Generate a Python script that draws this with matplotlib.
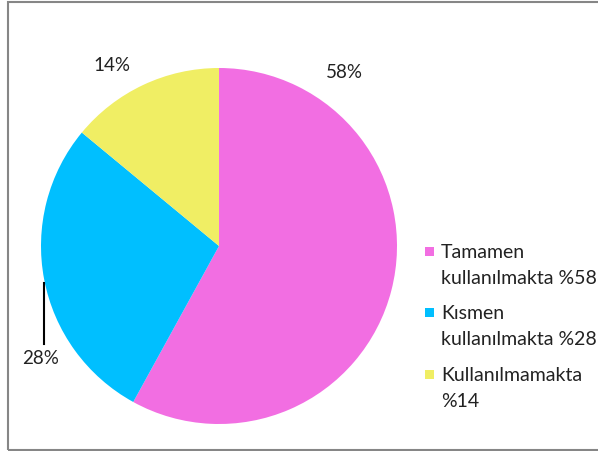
import matplotlib.pyplot as plt
from matplotlib.patches import Rectangle

# data
categories = ['Tamamen\nkullanılmakta %58', 'Kısmen\nkullanılmakta %28', 'Kullanılmamakta\n%14']
values = [58, 28, 14]
pct_labels = ['58%', '28%', '14%']
colors = ['#F26EE2', '#00BFFF', '#F0EE64']

plt.rcParams['font.family'] = ['Lato', 'DejaVu Sans']

W, H = 598, 452
fig = plt.figure(figsize=(W / 100, H / 100), dpi=100)

# outer frame
fig.patches.append(Rectangle((8 / W, 1 - 451 / H), 1.0, 448 / H, transform=fig.transFigure,
                             fill=False, edgecolor='#868686', linewidth=1.5))

# pie axes, center (219, 247) px, radius 178 px
cx, cy, r = 219, 247, 178
ax = fig.add_axes([(cx - r) / W, (H - cy - r) / H, 2 * r / W, 2 * r / H])
ax.pie(values, colors=colors, startangle=90, counterclock=False,
       wedgeprops=dict(linewidth=0), radius=1)
ax.set_xlim(-1, 1)
ax.set_ylim(-1, 1)
ax.set_aspect('equal')
ax.axis('off')

# percentage labels (data coords, radius = 1)
label_pos = [(0.702, 0.983), (-1.0, -0.629), (-0.601, 1.017)]
for txt, (x, y) in zip(pct_labels, label_pos):
    ax.text(x, y, txt, ha='center', va='center', fontsize=13.5, color='#222222', clip_on=False)
# leader line for 28%
ax.plot([-0.983, -0.983], [-0.208, -0.551], color='black', linewidth=1.5, clip_on=False)

# legend
legend_tops = [244, 305, 367]
for lab, col, top in zip(categories, colors, legend_tops):
    fig.patches.append(Rectangle((425 / W, 1 - (top + 13) / H), 9 / W, 9 / H,
                                 transform=fig.transFigure, facecolor=col, edgecolor='none'))
    fig.text(441 / W, 1 - top / H, lab, ha='left', va='top', fontsize=14,
             color='#222222', linespacing=1.65)

fig.savefig('out.png', dpi=100)
